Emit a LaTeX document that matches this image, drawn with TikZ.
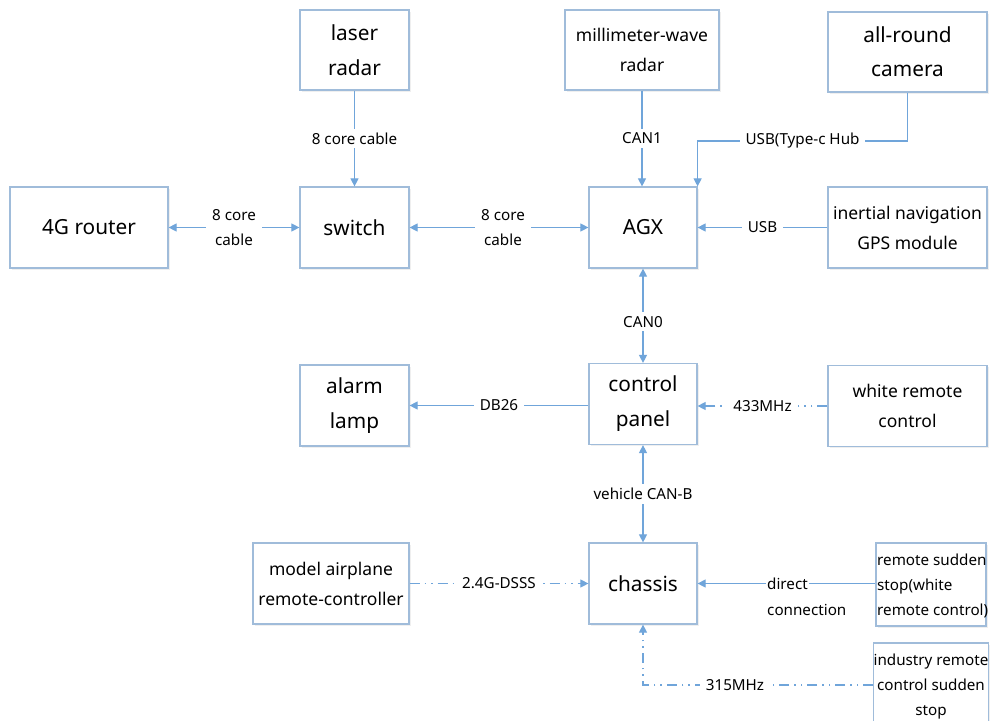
\documentclass[tikz,border=0pt]{standalone}
\usepackage{fontspec}
\setmainfont{Noto Sans}
\usetikzlibrary{arrows.meta,shadows}
\definecolor{ln}{RGB}{112,165,218}
\definecolor{bx}{RGB}{160,188,218}
\begin{document}
\begin{tikzpicture}[x=1pt,y=-1pt,
 box/.style={draw=bx, line width=1.2pt, fill=white, inner sep=0pt, align=center,
   drop shadow={shadow xshift=1.5pt,shadow yshift=-1.5pt,fill=black!12}},
 big/.style={font=\fontsize{20.8}{35}\selectfont},
 med/.style={font=\fontsize{17.5}{30}\selectfont},
 sml/.style={font=\fontsize{15.2}{25}\selectfont},
 conn/.style={draw=ln, line width=1.1pt},
 arr/.style={-{Triangle[length=8pt,width=8pt]}},
 arrb/.style={{Triangle[length=8pt,width=8pt]}-{Triangle[length=8pt,width=8pt]}},
 lbl/.style={fill=white, sml, inner xsep=6pt, inner ysep=4pt, align=center},
 dd/.style={dash pattern=on 10pt off 5pt on 1.5pt off 5pt on 1.5pt off 5pt}
]
\useasboundingbox (0,0) rectangle (990,720);
\clip (0,0) rectangle (990,720);
\fill[white] (0,0) rectangle (990,720);

% boxes
\node[box, big, minimum width=109pt, minimum height=80pt] (laser) at (354.5,50) {laser\\radar};
\node[box, med, minimum width=154pt, minimum height=80pt] (mmw) at (642,50) {millimeter-wave\\radar};
\node[box, font=\fontsize{20.8}{34}\selectfont, minimum width=159pt, minimum height=80pt] (cam) at (907.5,52) {all-round\\camera};
\node[box, big, minimum width=158pt, minimum height=81pt] (router) at (89,227.5) {4G router};
\node[box, big, minimum width=109pt, minimum height=81pt] (switch) at (354.5,227.5) {switch};
\node[box, big, minimum width=108pt, minimum height=81pt] (agx) at (643,227.5) {AGX};
\node[box, med, minimum width=159pt, minimum height=81pt] (ins) at (907.5,227.5) {inertial navigation\\GPS module};
\node[box, big, minimum width=109pt, minimum height=81pt] (alarm) at (354.5,405.5) {alarm\\lamp};
\node[box, big, minimum width=108pt, minimum height=81pt] (cp) at (643,404) {control\\panel};
\node[box, med, minimum width=159pt, minimum height=81pt] (white) at (907.5,406) {white remote\\control};
\node[box, med, minimum width=156pt, minimum height=81pt] (plane) at (331,583.5) {model airplane\\remote-controller};
\node[box, big, minimum width=108pt, minimum height=81pt] (chassis) at (643,583.5) {chassis};
\node[box, minimum width=110pt, minimum height=83pt] (rss) at (931,584.5) {};
\node[sml, align=left, inner sep=0pt, anchor=west] (rsst) at (877,586) {remote sudden\\stop(white\\remote control)};
\node[box, sml, minimum width=110pt, minimum height=87pt] (ind) at (931,686.5) {industry remote\\control sudden\\stop};

% connectors
\draw[conn,arr] (laser.south) -- node[lbl]{8 core cable} (switch.north);
\draw[conn,arrb] (router.east) -- node[lbl]{8 core\\cable} (switch.west);
\draw[conn,arrb] (switch.east) -- node[lbl, xshift=4pt]{8 core\\cable} (agx.west);
\draw[conn,arr] (mmw.south) -- node[lbl]{CAN1} (mmw.south |- agx.north);
\coordinate (hub) at (907.5,141);
\draw[conn,arr] (cam.south) -- (hub) -- node[lbl]{USB(Type-c Hub} (hub -| agx.north east) -- (agx.north east);
\draw[conn,arr] (ins.west) -- node[lbl]{USB} (agx.east);
\draw[conn,arrb] (agx.south) -- node[lbl, yshift=-6pt]{CAN0} (cp.north);
\draw[conn,arr] (cp.west |- alarm.east) -- node[lbl]{DB26} (alarm.east);
\draw[conn,dd,arr] (white.west) -- node[lbl]{433MHz} (white.west -| cp.east);
\draw[conn,arrb] (cp.south) -- node[lbl]{vehicle CAN-B} (chassis.north);
\draw[conn,dd,arr] (plane.east) -- node[lbl]{2.4G-DSSS} (chassis.west);
\draw[conn,arr] (rss.west |- chassis.east) -- (chassis.east);
\node[lbl, anchor=west, inner xsep=1pt] (dc1) at (766,584) {direct};
\node[sml, anchor=west, inner sep=1pt] (dc2) at (766,610) {connection};
\coordinate (ic) at (643,685);
\draw[conn,dd,arr] (ind.west |- ic) -- node[lbl,pos=0.6]{315MHz} (ic) -- (chassis.south);
\end{tikzpicture}
\end{document}
